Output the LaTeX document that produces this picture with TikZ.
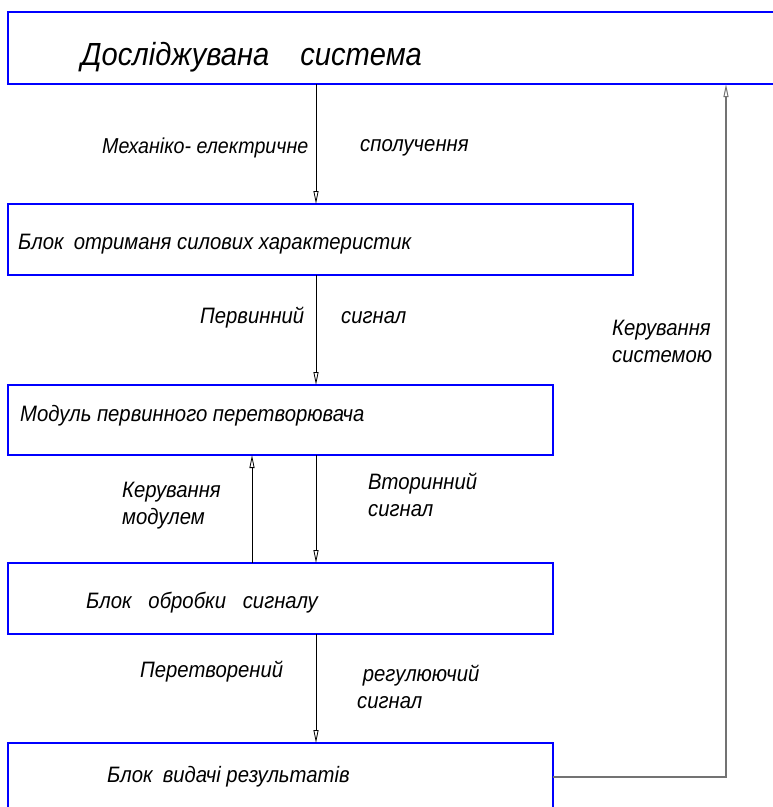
\documentclass[tikz,border=0pt]{standalone}
\usepackage{fontspec}
\setmainfont{Liberation Sans}[FakeStretch=0.91]
\usetikzlibrary{arrows.meta}
\tikzset{
  blk/.style={draw=blue, line width=2pt},
  lbl/.style={anchor=west, inner sep=0pt, font=\fontsize{22.3}{27}\selectfont\itshape},
  conn/.style={draw=black, line width=0.8pt, -{Triangle[open, length=13pt, width=5pt]}},
  fb/.style={draw=black!55, line width=1.4pt, -{Triangle[open, length=13pt, width=5pt, line width=1pt]}},
}
\begin{document}
\begin{tikzpicture}[x=1pt, y=-1pt]
\useasboundingbox (0,0) rectangle (773,807);
\begin{scope}
\clip (0,0) rectangle (773,807);
% boxes
\draw[blk] (790,12) -- (8,12) -- (8,84) -- (790,84);
\coordinate (sysL) at (316,84);
\coordinate (sysR) at (726,84);
\draw[blk] (8,204) rectangle (633,275);
\coordinate (b2t) at (316,204);
\coordinate (b2b) at (316,275);
\draw[blk] (8,385) rectangle (553,455);
\coordinate (b3t) at (316,385);
\coordinate (b3b) at (316,455);
\coordinate (b3bl) at (252,455);
\draw[blk] (8,563) rectangle (553,634);
\coordinate (b4t) at (316,563);
\coordinate (b4tl) at (252,563);
\coordinate (b4b) at (316,634);
\draw[blk] (8,820) -- (8,743) -- (553,743) -- (553,820);
\coordinate (b5t) at (316,743);
\coordinate (b5r) at (553,777);
\coordinate (fbc) at (726,777);
\end{scope}
% texts
\node[lbl, font=\fontsize{32}{36}\selectfont\itshape] (t1) at (81,57) {Досліджувана\hspace{31pt}система};
\node[lbl] (t2) at (18,244) {Блок\hspace{0.2em} отриманя силових характеристик};
\node[lbl] (t3) at (20,416) {Модуль первинного перетворювача};
\node[lbl] (t4) at (86,603) {Блок\hspace{0.5em} обробки\hspace{0.5em} сигналу};
\node[lbl] (t5) at (107,777) {Блок\hspace{0.2em} видачі результатів};
% connector labels
\node[lbl, font=\fontsize{21.6}{27}\selectfont\itshape] (l1a) at (102,148) {Механіко- електричне};
\node[lbl] (l1b) at (360,148) {сполучення};
\node[lbl] (l2a) at (200,318) {Первинний};
\node[lbl] (l2b) at (341,318) {сигнал};
\node[lbl, align=left] (l3) at (612,341) {Керування\\системою};
\node[lbl, align=left] (l4) at (122,506) {Керування\\модулем};
\node[lbl, align=left] (l5) at (368,495) {Вторинний\\сигнал};
\node[lbl] (l6a) at (140,672) {Перетворений};
\node[lbl, align=left] (l6b) at (357,687) {\hspace{0.25em}регулюючий\\сигнал};
% connectors
\draw[conn] (sysL) -- (b2t);
\draw[conn] (b2b) -- (b3t);
\draw[conn] (b3b) -- (b4t);
\draw[conn] (b4tl) -- (b3bl);
\draw[conn] (b4b) -- (b5t);
\draw[fb] (b5r) -- (fbc) -- (sysR);
\end{tikzpicture}
\end{document}
